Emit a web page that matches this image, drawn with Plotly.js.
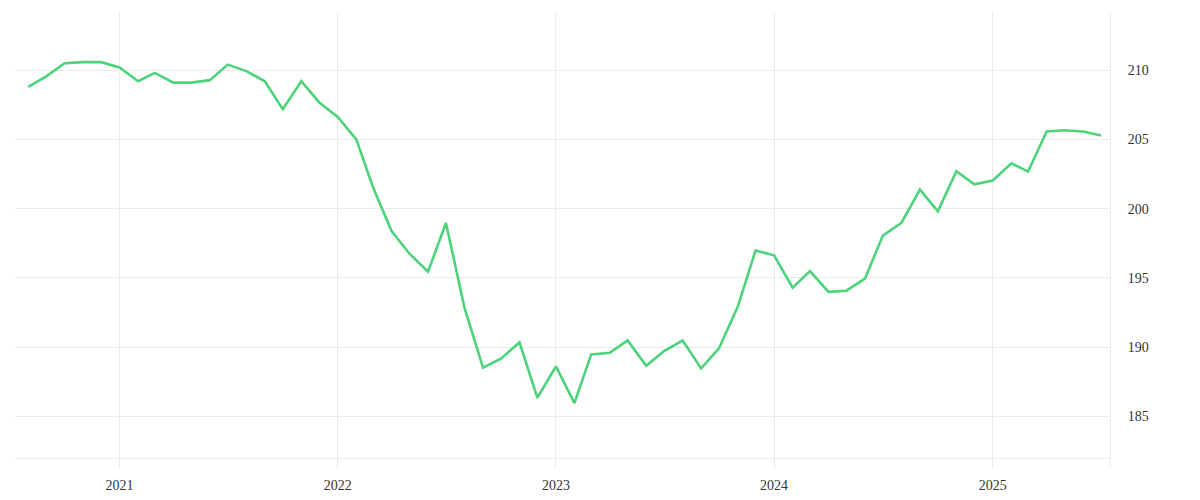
<!DOCTYPE html>
<html>
<head>
<meta charset="utf-8">
<script src="https://cdn.plot.ly/plotly-3.0.1.min.js"></script>
<style>
    html, body { margin: 0; padding: 0; background: #fff; }
    #graph { width: 1200px; height: 500px; }
</style>
</head>
<body>
<div id="graph"></div>
<script>
// monthly values, Aug 2020 .. Jul 2025
const months = [
    "2020-08-01", "2020-09-01", "2020-10-01", "2020-11-01", "2020-12-01",
    "2021-01-01", "2021-02-01", "2021-03-01", "2021-04-01", "2021-05-01", "2021-06-01",
    "2021-07-01", "2021-08-01", "2021-09-01", "2021-10-01", "2021-11-01", "2021-12-01",
    "2022-01-01", "2022-02-01", "2022-03-01", "2022-04-01", "2022-05-01", "2022-06-01",
    "2022-07-01", "2022-08-01", "2022-09-01", "2022-10-01", "2022-11-01", "2022-12-01",
    "2023-01-01", "2023-02-01", "2023-03-01", "2023-04-01", "2023-05-01", "2023-06-01",
    "2023-07-01", "2023-08-01", "2023-09-01", "2023-10-01", "2023-11-01", "2023-12-01",
    "2024-01-01", "2024-02-01", "2024-03-01", "2024-04-01", "2024-05-01", "2024-06-01",
    "2024-07-01", "2024-08-01", "2024-09-01", "2024-10-01", "2024-11-01", "2024-12-01",
    "2025-01-01", "2025-02-01", "2025-03-01", "2025-04-01", "2025-05-01", "2025-06-01",
    "2025-07-01"
];

const values = [
    208.8, 209.57, 210.5, 210.58, 210.58,
    210.2, 209.2, 209.8, 209.1, 209.1, 209.28,
    210.4, 209.93, 209.2, 207.18, 209.2, 207.67,
    206.63, 205.0, 201.55, 198.39, 196.75, 195.45,
    198.97, 192.85, 188.52, 189.17, 190.35, 186.35,
    188.61, 185.96, 189.48, 189.6, 190.49, 188.66,
    189.72, 190.49, 188.47, 189.94, 192.9, 196.98,
    196.63, 194.3, 195.5, 194.0, 194.08, 194.95,
    198.06, 198.97, 201.38, 199.81, 202.7, 201.76,
    202.03, 203.28, 202.68, 205.57, 205.66, 205.57,
    205.28
];

const yTicks = [185, 190, 195, 200, 205, 210];
const xTicks = ["2021-01-01", "2022-01-01", "2023-01-01", "2024-01-01", "2025-01-01"];
const xTickText = ["2021", "2022", "2023", "2024", "2025"];

const gridColor = "#ebebeb";

function initPlot() {
    const layout = {
        width: 1200,
        height: 500,
        margin: { l: 15, r: 90, t: 12, b: 42 },
        paper_bgcolor: "#fff",
        plot_bgcolor: "#fff",
        showlegend: false,
        font: { family: "Liberation Serif, DejaVu Serif, serif", size: 14, color: "#333" },
        xaxis: {
            type: "date",
            range: ["2020-07-10", "2025-07-16"],
            tickvals: xTicks,
            ticktext: xTickText,
            showgrid: true,
            gridcolor: gridColor,
            gridwidth: 1,
            ticks: "outside",
            ticklen: 10,
            tickcolor: gridColor,
            ticklabelstandoff: 4,
            showline: true,
            linecolor: gridColor,
            linewidth: 1,
            zeroline: false
        },
        yaxis: {
            side: "right",
            range: [182, 214.2],
            tickvals: yTicks,
            showgrid: true,
            gridcolor: gridColor,
            gridwidth: 1,
            // invisible ticks push the labels away from the edge
            ticks: "outside",
            ticklen: 14,
            tickcolor: "rgba(0,0,0,0)",
            showline: true,
            linecolor: gridColor,
            linewidth: 1,
            zeroline: false
        },
        shapes: [{
            // right edge line runs down past the axis like a tick
            type: "line",
            xref: "paper", yref: "paper",
            x0: 1, x1: 1, y0: -0.0224, y1: 0,
            line: { color: gridColor, width: 1 }
        }]
    };

    const config = {
        displayModeBar: false,
        staticPlot: true
    };

    Plotly.newPlot("graph", [{
        x: months,
        y: values,
        mode: "lines",
        line: { color: "#4cd37b", width: 2.6 },
        hoverinfo: "skip"
    }], layout, config);
}

document.addEventListener("DOMContentLoaded", () => {
    initPlot();
});
</script>
</body>
</html>
